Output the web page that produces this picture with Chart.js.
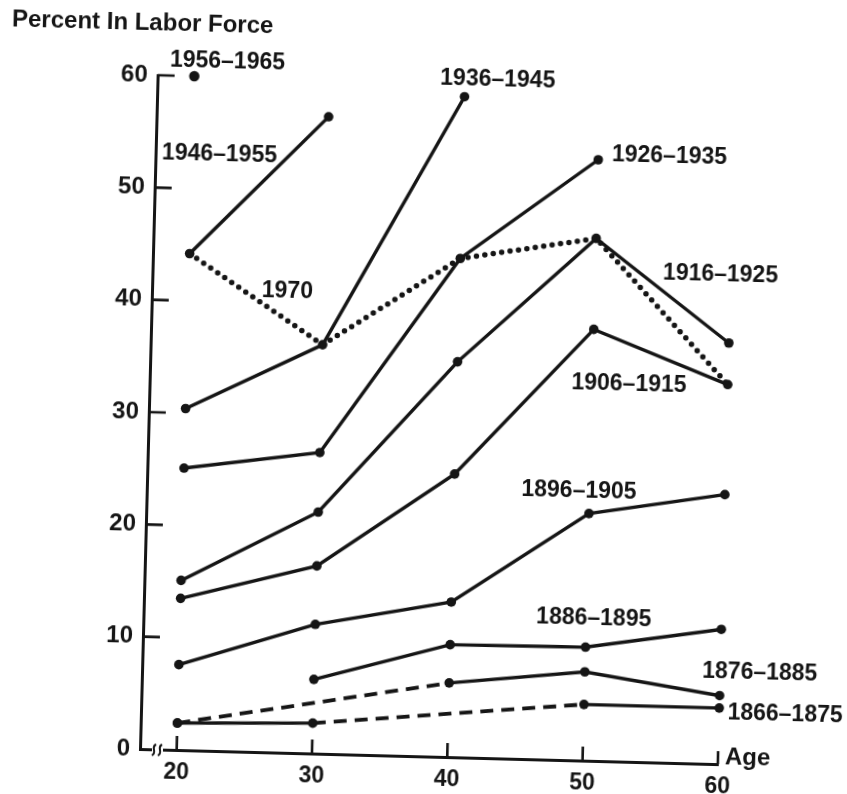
<!DOCTYPE html>
<html>
<head>
<meta charset="utf-8">
<script src="https://cdn.jsdelivr.net/npm/chart.js@4.4.1/dist/chart.umd.min.js"></script>
<style>
  html, body { margin: 0; padding: 0; background: #fff; }
  body { position: relative; width: 847px; height: 794px; overflow: hidden; }
  /* the printed figure sits slightly skewed on the page */
  #laborChart {
    position: absolute; left: -30px; top: -20px;
    transform-origin: 170px 769px;
    transform: rotate(1.5deg);
  }
</style>
</head>
<body>
<canvas id="laborChart" width="900" height="830"></canvas>
<script>
const ages = [20, 30, 40, 50, 60];

// percent of women in labor force, by birth cohort
const pct1956 = [60];
const pct1946 = [44.2, 56.7];
const pct1936 = [30.4, 36.4, 58.8];
const pct1926 = [25.1, 26.8, 44.4, 53.5];
const pct1916 = [15.1, 21.5, 35.2, 46.5, 37.5];
const pct1906 = [13.5, 16.7, 25.2, 38.4, 33.8];
const pct1896 = [7.6, 11.5, 13.8, 22.0, 24.0];
const pct1886 = [6.6, 10.0, 10.1, 12.0];   // from age 30
const pct1876 = [2.4, 6.6, 7.9, 6.1];      // ages 20, 40, 50, 60
const ages1876 = [20, 40, 50, 60];
const pct1866 = [2.4, 2.7, 5.0, 5.0];      // ages 20, 30, 50, 60
const ages1866 = [20, 30, 50, 60];
// 1970 cross-section (dotted)
const pct1970 = [44.2, 36.4, 44.4, 46.5, 33.8];

const xTicks = [20, 30, 40, 50, 60];
const yTicks = [0, 10, 20, 30, 40, 50, 60];

// segments drawn dashed (index of the segment's first point)
const dashed1876 = [0];
const dashed1866 = [1];

const ink = "#151515";
const fontFam = "'Liberation Sans', Arial, Helvetica, sans-serif";

// series names: text, anchor age, anchor percent (left edge, middle)
const seriesLabels = [
  ["1956\u20131965", 18.17, 61.4],
  ["1946\u20131955", 17.76, 53.1],
  ["1970", 25.4, 41.1],
  ["1936\u20131945", 38.17, 60.4],
  ["1926\u20131935", 51.0, 54.0],
  ["1916\u20131925", 55.0, 43.6],
  ["1906\u20131915", 48.45, 33.6],
  ["1896\u20131905", 44.96, 24.0],
  ["1886\u20131895", 46.3, 12.7],
  ["1876\u20131885", 58.67, 8.2],
  ["1866\u20131875", 60.62, 4.6]
];

const pts = (xs, vals) => vals.map((v, i) => ({ x: xs[i], y: v }));

const solid = (label, xs, vals, extra) => Object.assign({
  label: label,
  data: pts(xs, vals),
  borderColor: ink,
  backgroundColor: ink,
  borderWidth: 3.4,
  pointRadius: 4.8,
  pointHoverRadius: 4.8,
  pointBorderWidth: 0,
  pointBackgroundColor: ink,
  tension: 0,
  clip: false
}, extra || {});

const datasets = [
  Object.assign(solid("1970", ages, pct1970), {
    borderWidth: 5.5,
    borderDash: [0, 8.5],
    borderCapStyle: "round",
    pointRadius: 0
  }),
  solid("1956-1965", ages, pct1956, { pointRadius: 5.2 }),
  solid("1946-1955", ages, pct1946),
  solid("1936-1945", ages, pct1936),
  solid("1926-1935", ages, pct1926),
  solid("1916-1925", ages, pct1916),
  solid("1906-1915", ages, pct1906),
  solid("1896-1905", ages, pct1896),
  solid("1886-1895", ages.slice(1), pct1886),
  solid("1876-1885", ages1876, pct1876, {
    segment: {
      borderDash: (c) => dashed1876.includes(c.p0DataIndex) ? [13, 8] : undefined,
      borderWidth: (c) => dashed1876.includes(c.p0DataIndex) ? 3.8 : undefined
    }
  }),
  solid("1866-1875", ages1866, pct1866, {
    segment: {
      borderDash: (c) => dashed1866.includes(c.p0DataIndex) ? [13, 8] : undefined,
      borderWidth: (c) => dashed1866.includes(c.p0DataIndex) ? 3.8 : undefined
    }
  })
];

// inside ticks, axis break, title, axis name, series names
const decor = {
  id: "decor",
  afterDraw(chart) {
    const { ctx, chartArea: a, scales: { x, y } } = chart;
    ctx.save();
    ctx.strokeStyle = ink;
    ctx.lineWidth = 2.6;
    ctx.beginPath();
    yTicks.forEach((v) => {
      if (v === 0) return;
      const py = y.getPixelForValue(v);
      ctx.moveTo(a.left, py);
      ctx.lineTo(a.left + 17, py);
    });
    xTicks.forEach((v) => {
      const px = x.getPixelForValue(v);
      ctx.moveTo(px, a.bottom);
      ctx.lineTo(px, a.bottom - (v === 60 ? 13 : 14));
    });
    ctx.stroke();

    // axis break
    ctx.fillStyle = "#fff";
    ctx.fillRect(a.left + 12, a.bottom - 3, 11, 6);
    ctx.lineWidth = 2;
    [a.left + 14, a.left + 20].forEach((cx) => {
      ctx.beginPath();
      ctx.moveTo(cx - 2, a.bottom + 6);
      ctx.bezierCurveTo(cx + 4, a.bottom + 3, cx - 4, a.bottom - 2, cx + 2, a.bottom - 5);
      ctx.stroke();
    });

    ctx.fillStyle = ink;
    ctx.textBaseline = "middle";
    ctx.textAlign = "left";
    ctx.font = "bold 24px " + fontFam;
    ctx.fillText("Percent In Labor Force", a.left - 147, a.bottom - 726);
    ctx.fillText("Age", a.right + 7, a.bottom - 7);

    ctx.font = "bold 23px " + fontFam;
    seriesLabels.forEach(([t, ax, ay]) => {
      ctx.fillText(t, x.getPixelForValue(ax), y.getPixelForValue(ay));
    });
    ctx.restore();
  }
};

new Chart(document.getElementById("laborChart"), {
  type: "line",
  data: { datasets: datasets },
  options: {
    responsive: false,
    animation: false,
    events: [],
    layout: { padding: { top: 95, right: 152, bottom: 0, left: 0 } },
    plugins: { legend: { display: false }, title: { display: false }, tooltip: { enabled: false } },
    scales: {
      x: {
        type: "linear",
        min: 17.29,
        max: 60,
        afterBuildTicks: (s) => { s.ticks = xTicks.map((v) => ({ value: v })); },
        afterFit: (s) => { s.height = 61; },
        grid: { display: false, drawTicks: false },
        border: { display: true, color: ink, width: 3 },
        ticks: { color: ink, padding: 9, font: { family: fontFam, size: 23, weight: "bold" } }
      },
      y: {
        type: "linear",
        min: 0,
        max: 60,
        afterBuildTicks: (s) => { s.ticks = yTicks.map((v) => ({ value: v })); },
        afterFit: (s) => { s.width = 170; },
        grid: { display: false, drawTicks: false },
        border: { display: true, color: ink, width: 3 },
        ticks: { color: ink, padding: 10, font: { family: fontFam, size: 24, weight: "bold" } }
      }
    }
  },
  plugins: [decor]
});
</script>
</body>
</html>
